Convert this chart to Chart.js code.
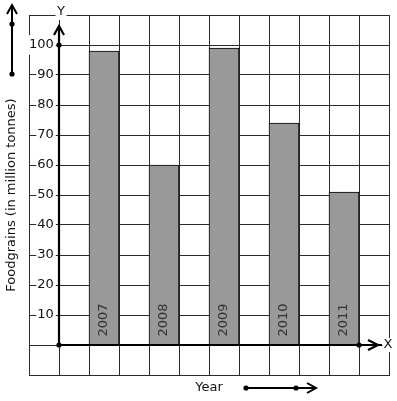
<!DOCTYPE html>
<html>
<head>
<meta charset="utf-8">
<script src="https://cdn.jsdelivr.net/npm/chart.js@4"></script>
<style>
    html, body { margin: 0; padding: 0; background: #fff; }
    #wrap { width: 397px; height: 401px; }
</style>
</head>
<body>
<div id="wrap"><canvas id="chart"></canvas></div>
<script>
// ── Data ────────────────────────────────────────────────────────

const years = ['2007', '2008', '2009', '2010', '2011'];
const foodgrains = [98, 60, 99, 74, 51];          // million tonnes
const yTickValues = [10, 20, 30, 40, 50, 60, 70, 80, 90, 100];

// the grid has 12 columns, a bar sits in every other one starting at column 2
const SLOTS = 12;
const slotLabels = Array(SLOTS).fill('');
const slotValues = Array(SLOTS).fill(null);
years.forEach((y, i) => {
    slotLabels[2 + i * 2] = y;
    slotValues[2 + i * 2] = foodgrains[i];
});

const LINE = '#2a2a2a';
const FONT = "'DejaVu Sans', sans-serif";

Chart.defaults.font.family = FONT;
Chart.defaults.font.size = 13;
Chart.defaults.color = '#111';

// ── Helpers ─────────────────────────────────────────────────────

function dot(ctx, x, y, r = 2.6) {
    ctx.beginPath();
    ctx.arc(x, y, r, 0, Math.PI * 2);
    ctx.fill();
}

function labelOnWhite(ctx, text, x, y, w, h) {
    ctx.fillStyle = '#fff';
    ctx.fillRect(x - w / 2, y - h / 2, w, h);
    ctx.fillStyle = '#111';
    ctx.fillText(text, x, y);
}

// ── Plugins ─────────────────────────────────────────────────────

// year text written upward inside each bar
const barLabels = {
    id: 'barLabels',
    afterDatasetsDraw(chart) {
        const { ctx, scales: { y } } = chart;
        const meta = chart.getDatasetMeta(0);
        ctx.save();
        ctx.font = `13px ${FONT}`;
        ctx.fillStyle = '#333';
        ctx.textAlign = 'center';
        ctx.textBaseline = 'middle';
        meta.data.forEach((bar, i) => {
            if (slotValues[i] === null) return;
            ctx.save();
            ctx.translate(bar.x, y.getPixelForValue(0) - 25);
            ctx.rotate(-Math.PI / 2);
            ctx.fillText(slotLabels[i], 0, 0);
            ctx.restore();
        });
        ctx.restore();
    }
};

// thick X / Y axes through the origin, plus the little arrows outside the grid
const axesArrows = {
    id: 'axesArrows',
    afterDraw(chart) {
        const { ctx, chartArea, scales: { x, y } } = chart;
        const ox = x.getPixelForValue(0.5);
        const oy = y.getPixelForValue(0);
        const top = y.getPixelForValue(100);
        const xEnd = x.getPixelForValue(10.5);

        ctx.save();
        ctx.strokeStyle = '#000';
        ctx.fillStyle = '#000';
        ctx.lineWidth = 2.2;
        ctx.lineCap = 'butt';

        // Y axis
        ctx.beginPath();
        ctx.moveTo(ox, oy);
        ctx.lineTo(ox, top - 19);
        ctx.stroke();
        ctx.beginPath();
        ctx.moveTo(ox - 5, top - 10);
        ctx.lineTo(ox, top - 19);
        ctx.lineTo(ox + 5, top - 10);
        ctx.stroke();

        // X axis
        ctx.beginPath();
        ctx.moveTo(ox, oy);
        ctx.lineTo(xEnd + 23, oy);
        ctx.stroke();
        ctx.beginPath();
        ctx.moveTo(xEnd + 9, oy - 5);
        ctx.lineTo(xEnd + 19, oy);
        ctx.lineTo(xEnd + 9, oy + 5);
        ctx.stroke();

        dot(ctx, ox, oy);
        dot(ctx, ox, top);
        dot(ctx, xEnd, oy);

        // vertical scale arrow (top left)
        ctx.lineWidth = 2;
        ctx.beginPath();
        ctx.moveTo(12, 74);
        ctx.lineTo(12, 5);
        ctx.stroke();
        ctx.beginPath();
        ctx.moveTo(7, 14);
        ctx.lineTo(12, 5);
        ctx.lineTo(17, 14);
        ctx.stroke();
        dot(ctx, 12, 24);
        dot(ctx, 12, 74);

        // horizontal scale arrow (beside "Year")
        const ay = 388;
        ctx.beginPath();
        ctx.moveTo(246, ay);
        ctx.lineTo(316, ay);
        ctx.stroke();
        ctx.beginPath();
        ctx.moveTo(307, ay - 5);
        ctx.lineTo(316, ay);
        ctx.lineTo(307, ay + 5);
        ctx.stroke();
        dot(ctx, 246, ay);
        dot(ctx, 296, ay);

        // axis letters
        ctx.font = `13px ${FONT}`;
        ctx.textAlign = 'center';
        ctx.textBaseline = 'middle';
        labelOnWhite(ctx, 'Y', ox + 2, chartArea.top - 3, 11, 16);
        labelOnWhite(ctx, 'X', chartArea.right - 1, oy, 11, 14);
        ctx.restore();
    }
};

// ── Chart ───────────────────────────────────────────────────────

new Chart(document.getElementById('chart'), {
    type: 'bar',
    data: {
        labels: slotLabels,
        datasets: [{
            label: 'Foodgrains',
            data: slotValues,
            backgroundColor: '#999999',
            borderColor: '#000',
            borderWidth: 1,
            categoryPercentage: 1,
            barPercentage: 1,
        }],
    },
    options: {
        responsive: true,
        maintainAspectRatio: false,
        animation: false,
        layout: { padding: { top: 15, right: 8, bottom: 0, left: 0 } },
        plugins: {
            legend: { display: false },
            tooltip: { enabled: false },
        },
        scales: {
            x: {
                grid: { offset: true, color: LINE, lineWidth: 1, drawTicks: false },
                border: { color: LINE },
                ticks: { display: false },
                title: {
                    display: true,
                    text: 'Year',
                    color: '#111',
                    font: { size: 13 },
                    padding: { top: 0, bottom: 6 },
                },
                afterFit: (scale) => { scale.height = 26; },
            },
            y: {
                min: -10,
                max: 110,
                grid: { color: LINE, lineWidth: 1, drawTicks: false },
                border: { color: LINE },
                ticks: {
                    stepSize: 10,
                    mirror: true,
                    crossAlign: 'far',
                    padding: 0,
                    color: '#111',
                    font: { size: 13 },
                    callback: (v) => yTickValues.includes(v) ? String(v) : '',
                    showLabelBackdrop: (c) => yTickValues.includes(c.tick && c.tick.value),
                    backdropColor: '#fff',
                    backdropPadding: { top: 2, bottom: 2, left: 1, right: 2 },
                },
                title: {
                    display: true,
                    text: 'Foodgrains (in million tonnes)',
                    color: '#111',
                    font: { size: 13 },
                    padding: { top: 4, bottom: 4 },
                },
                afterFit: (scale) => { scale.width = 29; },
            },
        },
    },
    plugins: [barLabels, axesArrows],
});
</script>
</body>
</html>
